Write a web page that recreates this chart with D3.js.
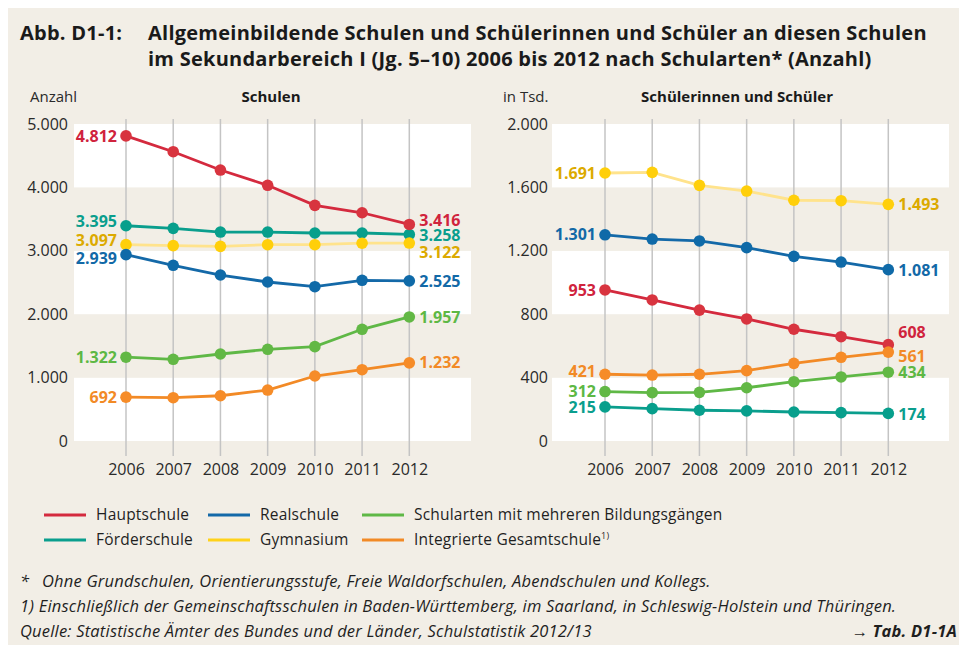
<!DOCTYPE html>
<html>
<head>
<meta charset="utf-8">
<script src="https://cdn.jsdelivr.net/npm/d3@7"></script>
<style>
  body { margin: 0; background: #fff; }
  svg { display: block; font-family: 'Open Sans', 'Noto Sans', sans-serif; }
</style>
</head>
<body>
<div id="chart"></div>
<script>
const years = [2006, 2007, 2008, 2009, 2010, 2011, 2012]

const seriesNames = ['Hauptschule', 'Realschule', 'Schularten mit mehreren Bildungsgängen',
  'Förderschule', 'Gymnasium', 'Integrierte Gesamtschule']

// Schulen (Anzahl)
const schulenHaupt = [4812, 4563, 4274, 4033, 3717, 3600, 3416]
const schulenReal = [2939, 2771, 2618, 2508, 2434, 2535, 2525]
const schulenMehrere = [1322, 1289, 1372, 1446, 1488, 1762, 1957]
const schulenFoerder = [3395, 3354, 3296, 3296, 3281, 3281, 3258]
const schulenGym = [3097, 3081, 3070, 3096, 3096, 3120, 3122]
const schulenGesamt = [692, 683, 714, 804, 1025, 1125, 1232]

// Schülerinnen und Schüler (in Tsd.)
const schuelerHaupt = [953, 890, 826, 770, 705, 658, 608]
const schuelerReal = [1301, 1274, 1262, 1220, 1165, 1129, 1081]
const schuelerMehrere = [312, 305, 307, 336, 374, 404, 434]
const schuelerFoerder = [215, 204, 194, 190, 183, 179, 174]
const schuelerGym = [1691, 1695, 1613, 1577, 1519, 1516, 1493]
const schuelerGesamt = [421, 416, 421, 444, 490, 528, 561]

const schulenTicks = [0, 1000, 2000, 3000, 4000, 5000]
const schuelerTicks = [0, 400, 800, 1200, 1600, 2000]

const lineColors = ['#d42a3e', '#1469a8', '#5fb846', '#0a9e8d', '#ffe38c', '#f28a26']
const dotColors = ['#d8343f', '#0f6aa8', '#62b845', '#079f8c', '#ffcf0a', '#f68c28']
const textColors = ['#d0233d', '#1269a7', '#5db844', '#0a9e8d', '#dcaa00', '#f28a26']

const fmt = v => d3.format(',')(v).replace(/,/g, '.')

const W = 959
const H = 645
const svg = d3.select('#chart').append('svg').attr('width', W).attr('height', H)

svg.append('rect').attr('x', 8).attr('y', 8).attr('width', W).attr('height', H).attr('fill', '#f2eee6')

// title
const title = svg.append('g').attr('font-weight', 700).attr('font-size', 20)
  .attr('letter-spacing', 0.25).attr('fill', '#1a1a1a')
title.append('text').attr('x', 20).attr('y', 40).text('Abb. D1-1:')
title.append('text').attr('x', 148).attr('y', 40)
  .text('Allgemeinbildende Schulen und Schülerinnen und Schüler an diesen Schulen')
title.append('text').attr('x', 148).attr('y', 66)
  .text('im Sekundarbereich I (Jg. 5–10) 2006 bis 2012 nach Schularten* (Anzahl)')

// label nudges (px) for start / end value labels, per series order
const schulenNudge = { start: [0, 4, 0, -4, -4, 0], end: [-4, 0, 0, 1, 9, 0] }
const schuelerNudge = { start: [0, 0, 0, 0, 0, -3], end: [-12, 1, 0, 1, 0, 4] }

function panel (cfg) {
  const g = svg.append('g')
  const x = d3.scalePoint().domain(years).range([cfg.x0, cfg.x1])
  const y = d3.scaleLinear().domain([0, cfg.max]).range([441, 124])
  const ticks = cfg.ticks

  // alternating bands
  for (let i = 0; i < ticks.length - 1; i++) {
    g.append('rect')
      .attr('x', cfg.bx0).attr('width', cfg.bx1 - cfg.bx0)
      .attr('y', y(ticks[i + 1])).attr('height', y(ticks[i]) - y(ticks[i + 1]))
      .attr('fill', i % 2 === 0 ? '#ffffff' : '#f2eee6')
  }

  // vertical grid
  g.append('g').selectAll('line').data(years).join('line')
    .attr('x1', d => x(d)).attr('x2', d => x(d))
    .attr('y1', 119).attr('y2', 456)
    .attr('stroke', '#c4c4c4').attr('stroke-width', 1.5)

  // y axis labels
  const yAxis = d3.axisLeft(y).tickValues(ticks).tickFormat(fmt).tickSize(0).tickPadding(0)
  const ya = g.append('g').attr('transform', `translate(${cfg.yLabelX},0)`).call(yAxis)
  ya.select('.domain').remove()
  ya.selectAll('text').attr('font-size', 16).attr('fill', '#2a2a2a')
    .attr('font-family', "'Open Sans', sans-serif")

  // x axis labels
  const xAxis = d3.axisBottom(x).tickSize(0).tickPadding(0)
  const xa = g.append('g').attr('transform', 'translate(0,464)').call(xAxis)
  xa.select('.domain').remove()
  xa.selectAll('text').attr('font-size', 16).attr('fill', '#2a2a2a')
    .attr('font-family', "'Open Sans', sans-serif")

  // headers
  g.append('text').attr('x', cfg.unitX).attr('y', 102).attr('font-size', 15).attr('fill', '#2a2a2a').text(cfg.unit)
  g.append('text').attr('x', cfg.headX).attr('y', 102).attr('text-anchor', 'middle')
    .attr('font-size', 15).attr('font-weight', 700).attr('fill', '#1a1a1a').text(cfg.head)

  const line = d3.line().x((d, i) => x(years[i])).y(d => y(d))
  const order = cfg.order
  order.forEach(k => {
    const vals = cfg.series[k]
    g.append('path').attr('d', line(vals)).attr('fill', 'none')
      .attr('stroke', lineColors[k]).attr('stroke-width', 2.8)
  })
  order.forEach(k => {
    const vals = cfg.series[k]
    g.append('g').selectAll('circle').data(vals).join('circle')
      .attr('cx', (d, i) => x(years[i])).attr('cy', d => y(d)).attr('r', 5.8)
      .attr('fill', dotColors[k])
  })
  const lab = g.append('g').attr('font-size', 16).attr('font-weight', 700)
  order.forEach(k => {
    const vals = cfg.series[k]
    lab.append('text').attr('x', x(years[0]) - 9).attr('y', y(vals[0]) + cfg.nudge.start[k])
      .attr('dy', '0.35em').attr('text-anchor', 'end').attr('fill', textColors[k]).text(fmt(vals[0]))
    lab.append('text').attr('x', x(years[6]) + 10).attr('y', y(vals[6]) + cfg.nudge.end[k])
      .attr('dy', '0.35em').attr('fill', textColors[k]).text(fmt(vals[6]))
  })
}

panel({
  x0: 126, x1: 409.3, bx0: 74, bx1: 471, yLabelX: 68, max: 5000, ticks: schulenTicks,
  unit: 'Anzahl', unitX: 30, head: 'Schulen', headX: 271,
  series: [schulenHaupt, schulenReal, schulenMehrere, schulenFoerder, schulenGym, schulenGesamt],
  order: [3, 0, 4, 1, 2, 5], nudge: schulenNudge
})

panel({
  x0: 605, x1: 888.3, bx0: 552, bx1: 949, yLabelX: 548, max: 2000, ticks: schuelerTicks,
  unit: 'in Tsd.', unitX: 503, head: 'Schülerinnen und Schüler', headX: 737,
  series: [schuelerHaupt, schuelerReal, schuelerMehrere, schuelerFoerder, schuelerGym, schuelerGesamt],
  order: [4, 1, 0, 5, 2, 3], nudge: schuelerNudge
})

// legend
const legendX = [44, 208, 362]
const legendY = [515, 540]
const legend = svg.append('g').attr('font-size', 15.5).attr('letter-spacing', 0.2).attr('fill', '#1f1f1f')
seriesNames.forEach((name, i) => {
  const lx = legendX[i % 3]
  const ly = legendY[Math.floor(i / 3)]
  legend.append('line').attr('x1', lx).attr('x2', lx + 42).attr('y1', ly).attr('y2', ly)
    .attr('stroke', i === 4 ? '#ffd21a' : lineColors[i]).attr('stroke-width', 3)
  const t = legend.append('text').attr('x', lx + 52).attr('y', ly).attr('dy', '0.35em').text(name)
  if (i === 5) t.append('tspan').attr('font-size', 9).attr('dy', '-0.7em').text('1)')
})

// footnotes
const foot = svg.append('g').attr('font-size', 16.5).attr('letter-spacing', 0.2)
  .attr('font-style', 'italic').attr('fill', '#1f1f1f')
foot.append('text').attr('x', 20).attr('y', 587).text('*')
foot.append('text').attr('x', 42).attr('y', 587)
  .text('Ohne Grundschulen, Orientierungsstufe, Freie Waldorfschulen, Abendschulen und Kollegs.')
foot.append('text').attr('x', 20).attr('y', 612)
  .text('1) Einschließlich der Gemeinschaftsschulen in Baden-Württemberg, im Saarland, in Schleswig-Holstein und Thüringen.')
foot.append('text').attr('x', 20).attr('y', 637)
  .text('Quelle: Statistische Ämter des Bundes und der Länder, Schulstatistik 2012/13')
foot.append('text').attr('x', 957).attr('y', 637).attr('text-anchor', 'end').attr('font-weight', 700)
  .text('→ Tab. D1-1A')
</script>
</body>
</html>
